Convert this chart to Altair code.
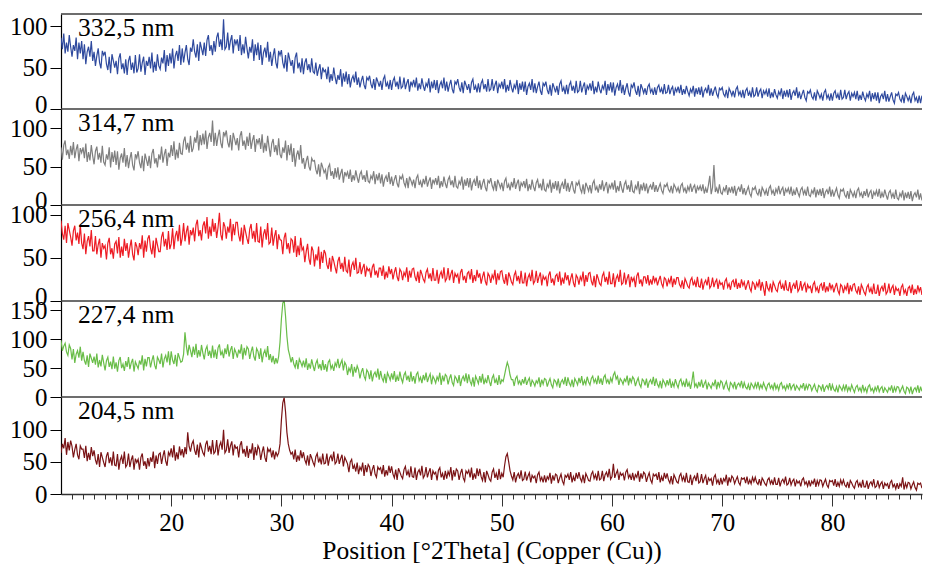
import altair as alt
import numpy as np
import pandas as pd

# x grid: 10 to 89 degrees 2Theta, step 0.125
STEP = 0.125
X_START = 10.0

labels = ["332,5 nm", "314,7 nm", "256,4 nm", "227,4 nm", "204,5 nm"]
colors = ["#2f4a9e", "#7f7f7f", "#ed1c24", "#69bd48", "#7a1315"]
ymax = [114.5, 125, 111, 166, 151]
yticks = [[0, 50, 100], [0, 50, 100], [0, 50, 100], [0, 50, 100, 150], [0, 50, 100]]
zero_label_shift = [-5, -5, -5, 0, 0]
heights = [95, 96, 96, 96, 97]
x_major = [20, 30, 40, 50, 60, 70, 80]
x_minor = [i for i in range(11, 89) if i % 10 != 0]

blue = [
    86, 72, 91, 67, 80, 69, 89, 75, 63, 77, 70, 86, 60, 80, 67, 82,
    60, 78, 54, 69, 75, 63, 82, 58, 69, 52, 64, 73, 56, 49, 70, 65,
    69, 54, 47, 63, 43, 66, 58, 50, 58, 42, 61, 67, 48, 55, 43, 60,
    41, 58, 64, 47, 56, 43, 65, 44, 49, 66, 45, 56, 63, 41, 58, 52,
    63, 49, 68, 44, 57, 46, 66, 52, 48, 62, 55, 71, 45, 65, 52, 67,
    55, 73, 49, 64, 70, 58, 77, 53, 73, 56, 68, 77, 60, 53, 74, 69,
    84, 69, 62, 78, 58, 81, 73, 65, 80, 64, 83, 89, 70, 77, 65, 82,
    69, 86, 92, 75, 84, 71, 108, 72, 75, 92, 71, 82, 89, 67, 84, 78,
    84, 70, 89, 65, 78, 67, 87, 73, 61, 75, 68, 84, 58, 78, 65, 80,
    59, 77, 53, 68, 74, 62, 81, 57, 69, 52, 64, 73, 56, 49, 70, 65,
    71, 56, 49, 65, 45, 68, 60, 52, 59, 43, 62, 68, 49, 56, 44, 61,
    42, 56, 61, 47, 54, 44, 61, 45, 43, 56, 40, 48, 54, 36, 50, 45,
    47, 36, 51, 32, 42, 34, 50, 38, 30, 41, 35, 48, 27, 43, 33, 45,
    30, 42, 26, 36, 40, 32, 45, 29, 38, 26, 34, 40, 29, 24, 38, 35,
    40, 30, 25, 36, 23, 38, 33, 27, 34, 23, 36, 40, 27, 32, 24, 35,
    23, 34, 38, 27, 33, 24, 39, 25, 27, 38, 24, 31, 36, 21, 33, 28,
    35, 26, 38, 22, 31, 24, 37, 28, 22, 31, 27, 37, 20, 33, 25, 35,
    23, 35, 19, 29, 33, 25, 38, 22, 33, 21, 29, 35, 24, 19, 33, 30,
    36, 26, 21, 32, 19, 34, 29, 23, 30, 19, 32, 36, 23, 28, 20, 31,
    20, 31, 35, 24, 30, 21, 36, 22, 24, 36, 22, 29, 34, 19, 30, 26,
    33, 24, 36, 20, 29, 22, 35, 26, 20, 29, 25, 35, 18, 31, 23, 33,
    21, 33, 17, 27, 31, 23, 36, 20, 31, 19, 27, 33, 22, 17, 31, 28,
    33, 23, 18, 29, 16, 31, 26, 20, 28, 17, 30, 34, 21, 26, 18, 29,
    18, 29, 33, 22, 28, 19, 34, 20, 22, 34, 20, 27, 32, 17, 28, 24,
    31, 22, 34, 18, 27, 20, 33, 24, 19, 28, 24, 34, 17, 30, 22, 32,
    20, 32, 16, 26, 30, 22, 35, 19, 29, 17, 25, 31, 20, 15, 29, 26,
    32, 22, 17, 28, 15, 30, 25, 19, 25, 17, 27, 30, 20, 24, 17, 26,
    17, 26, 29, 20, 25, 18, 30, 19, 20, 29, 18, 24, 27, 16, 25, 21,
    27, 19, 29, 17, 24, 18, 28, 21, 16, 24, 20, 28, 15, 25, 18, 26,
    17, 27, 14, 22, 25, 19, 29, 16, 25, 16, 22, 27, 18, 14, 25, 23,
    26, 18, 15, 23, 13, 25, 21, 16, 22, 14, 24, 27, 17, 21, 14, 23,
    13, 22, 25, 16, 21, 14, 26, 15, 17, 26, 15, 21, 24, 13, 22, 18,
    23, 15, 25, 13, 20, 14, 24, 17, 13, 21, 17, 25, 12, 22, 15, 23,
    14, 24, 11, 19, 22, 16, 26, 13, 21, 12, 18, 23, 14, 10, 21, 19,
    23, 15, 12, 20, 10, 22, 18, 13, 18, 10, 20, 23, 13, 17, 10, 19,
    10, 19, 22, 13, 18, 11, 23, 12, 14, 23, 12, 18, 21, 10, 19, 15,
    20, 12, 22, 10, 17, 11, 21, 14, 10, 18, 14, 22, 9, 19, 12, 20,
    10, 20, 7, 15, 18, 12, 22, 9, 18, 9, 15, 20, 11, 7, 18, 16,
    20, 12, 9, 17, 7, 19, 15, 10, 15, 7, 17, 20, 10, 14, 7, 16,
    7, 16, 19, 10, 15, 8, 20, 9, 12,
]

gray = [
    75, 59, 78, 84, 65, 72, 60, 77, 65, 82, 61, 72, 79, 57, 74, 68,
    75, 61, 80, 56, 69, 58, 78, 64, 53, 70, 76, 59, 68, 55, 77, 56,
    52, 66, 59, 75, 49, 69, 56, 71, 52, 70, 46, 61, 67, 55, 74, 50,
    65, 48, 60, 69, 52, 45, 66, 61, 70, 55, 48, 64, 44, 67, 59, 51,
    64, 48, 67, 73, 54, 61, 49, 66, 59, 76, 55, 66, 73, 51, 68, 62,
    78, 64, 83, 59, 72, 61, 81, 67, 66, 83, 89, 72, 81, 68, 90, 69,
    74, 88, 81, 97, 71, 91, 78, 93, 79, 97, 73, 88, 94, 82, 110, 77,
    94, 77, 89, 98, 81, 74, 95, 90, 97, 82, 75, 91, 71, 94, 86, 78,
    87, 71, 90, 96, 77, 84, 72, 89, 77, 94, 73, 84, 91, 69, 86, 80,
    87, 73, 92, 68, 81, 70, 90, 76, 63, 80, 86, 69, 78, 65, 87, 66,
    61, 75, 68, 84, 58, 78, 65, 80, 56, 74, 50, 65, 71, 59, 78, 54,
    61, 47, 57, 64, 50, 45, 61, 57, 58, 46, 40, 53, 37, 55, 49, 42,
    46, 33, 49, 53, 38, 44, 34, 48, 36, 49, 33, 41, 47, 29, 43, 38,
    43, 34, 46, 30, 39, 32, 45, 36, 29, 40, 44, 33, 39, 30, 45, 31,
    29, 38, 34, 44, 27, 40, 32, 42, 28, 40, 24, 34, 38, 30, 43, 27,
    37, 25, 33, 39, 28, 23, 37, 34, 39, 29, 24, 35, 22, 37, 32, 26,
    33, 22, 35, 39, 26, 31, 23, 34, 27, 38, 24, 31, 36, 21, 33, 28,
    35, 26, 38, 22, 31, 24, 37, 28, 22, 33, 37, 26, 32, 23, 38, 24,
    22, 31, 27, 37, 20, 33, 25, 35, 23, 35, 19, 29, 33, 25, 38, 22,
    32, 20, 28, 34, 23, 18, 32, 29, 35, 25, 20, 31, 18, 33, 28, 22,
    29, 18, 31, 35, 22, 27, 19, 30, 23, 35, 21, 28, 33, 18, 29, 25,
    31, 22, 34, 18, 27, 20, 33, 24, 18, 29, 33, 22, 28, 19, 34, 20,
    18, 27, 23, 33, 16, 29, 21, 31, 19, 31, 15, 25, 29, 21, 34, 18,
    29, 17, 25, 31, 20, 15, 29, 26, 31, 21, 16, 27, 14, 29, 24, 18,
    26, 15, 28, 32, 19, 24, 16, 27, 20, 32, 18, 25, 30, 15, 26, 22,
    29, 20, 32, 16, 25, 18, 31, 22, 16, 27, 31, 20, 26, 17, 32, 18,
    16, 25, 21, 31, 14, 27, 19, 29, 18, 28, 15, 23, 26, 20, 30, 17,
    26, 17, 23, 28, 19, 15, 26, 24, 28, 20, 17, 25, 15, 27, 23, 18,
    23, 15, 25, 28, 18, 22, 15, 24, 19, 28, 17, 23, 26, 15, 24, 20,
    25, 18, 27, 15, 22, 16, 26, 38, 14, 23, 52, 17, 22, 15, 27, 16,
    14, 22, 18, 26, 13, 23, 16, 24, 15, 25, 12, 20, 23, 17, 27, 14,
    22, 13, 19, 24, 15, 11, 22, 20, 24, 16, 13, 21, 11, 23, 19, 14,
    20, 12, 22, 25, 15, 19, 12, 21, 16, 25, 14, 20, 23, 12, 21, 17,
    22, 14, 24, 12, 19, 13, 23, 16, 11, 20, 23, 14, 19, 12, 24, 13,
    11, 19, 15, 23, 10, 20, 13, 21, 12, 22, 9, 17, 20, 14, 24, 11,
    20, 11, 17, 22, 13, 9, 20, 18, 21, 13, 10, 18, 8, 20, 16, 11,
    17, 9, 19, 22, 12, 16, 9, 18, 12, 21, 10, 16, 19, 8, 17, 13,
    19, 11, 21, 9, 16, 10, 20, 13, 7, 16, 19, 10, 15, 8, 20, 9,
    7, 15, 11, 19, 6, 16, 9, 17, 8, 18, 5, 13, 16, 10, 20, 7,
    15, 6, 12, 17, 8, 4, 15, 13, 11,
]

red = [
    93, 78, 71, 87, 67, 90, 82, 74, 64, 81, 87, 70, 79, 66, 88, 67,
    60, 78, 54, 69, 75, 63, 82, 58, 58, 75, 54, 65, 72, 50, 67, 61,
    64, 48, 67, 73, 54, 61, 49, 66, 69, 55, 74, 50, 63, 52, 72, 58,
    67, 50, 62, 71, 54, 47, 68, 63, 53, 67, 60, 76, 50, 70, 57, 72,
    76, 61, 54, 70, 50, 73, 65, 57, 57, 74, 80, 63, 72, 59, 81, 60,
    66, 84, 60, 75, 81, 69, 88, 64, 73, 90, 69, 80, 87, 65, 82, 76,
    85, 69, 88, 94, 75, 82, 70, 87, 92, 78, 97, 72, 86, 75, 95, 80,
    90, 73, 85, 102, 77, 70, 91, 86, 72, 86, 79, 95, 69, 89, 76, 91,
    91, 76, 69, 85, 65, 88, 80, 72, 66, 83, 89, 72, 81, 68, 90, 69,
    68, 86, 62, 77, 83, 71, 90, 66, 68, 85, 64, 75, 82, 60, 77, 71,
    70, 54, 73, 79, 60, 67, 55, 72, 70, 56, 75, 51, 64, 53, 73, 59,
    62, 45, 57, 66, 49, 42, 63, 58, 40, 54, 47, 63, 37, 57, 44, 59,
    55, 42, 37, 50, 34, 52, 46, 39, 32, 46, 51, 37, 44, 34, 51, 35,
    33, 48, 28, 41, 45, 36, 50, 32, 33, 45, 31, 38, 43, 28, 39, 35,
    37, 27, 39, 43, 30, 35, 27, 38, 38, 29, 41, 25, 34, 27, 40, 31,
    37, 25, 33, 39, 28, 23, 37, 34, 24, 33, 29, 39, 22, 35, 27, 37,
    38, 28, 23, 34, 21, 36, 31, 25, 22, 33, 37, 26, 32, 23, 38, 24,
    24, 36, 20, 30, 34, 26, 39, 23, 26, 38, 24, 31, 36, 21, 32, 28,
    31, 20, 33, 37, 24, 29, 21, 32, 34, 25, 37, 21, 30, 23, 36, 27,
    32, 20, 28, 34, 23, 18, 32, 29, 21, 30, 26, 36, 19, 32, 24, 34,
    35, 25, 20, 31, 18, 33, 28, 22, 19, 30, 34, 23, 29, 20, 35, 21,
    21, 33, 17, 27, 31, 23, 36, 20, 23, 35, 21, 28, 33, 18, 29, 25,
    28, 17, 30, 34, 21, 26, 18, 29, 31, 22, 34, 18, 27, 20, 33, 24,
    30, 18, 26, 32, 21, 16, 30, 27, 19, 28, 24, 34, 17, 30, 22, 32,
    33, 23, 18, 29, 16, 31, 26, 20, 18, 29, 33, 22, 28, 19, 34, 20,
    20, 32, 16, 26, 30, 22, 36, 19, 21, 33, 19, 26, 31, 16, 28, 23,
    27, 16, 29, 33, 20, 25, 17, 28, 28, 20, 30, 18, 25, 19, 29, 22,
    27, 18, 24, 29, 20, 16, 27, 25, 17, 25, 21, 29, 16, 26, 19, 27,
    27, 19, 16, 24, 14, 26, 22, 17, 15, 24, 27, 18, 23, 16, 28, 17,
    16, 26, 13, 21, 24, 18, 28, 15, 18, 27, 16, 22, 25, 14, 23, 19,
    21, 13, 23, 26, 16, 20, 13, 22, 24, 16, 26, 14, 21, 15, 25, 18,
    22, 13, 19, 24, 15, 11, 22, 20, 13, 21, 17, 25, 12, 22, 15, 6,
    23, 15, 12, 20, 10, 22, 18, 13, 11, 20, 23, 14, 19, 12, 24, 13,
    12, 22, 9, 17, 20, 14, 24, 11, 14, 23, 12, 18, 21, 10, 19, 15,
    17, 9, 19, 22, 12, 16, 9, 18, 20, 12, 22, 10, 17, 11, 21, 14,
    19, 10, 16, 21, 12, 8, 19, 17, 9, 17, 13, 21, 8, 18, 11, 19,
    20, 12, 9, 17, 7, 19, 15, 10, 7, 16, 19, 10, 15, 8, 20, 9,
    9, 19, 6, 14, 17, 11, 21, 8, 11, 20, 9, 15, 18, 7, 16, 12,
    14, 6, 16, 19, 9, 13, 6, 15, 17, 9, 19, 7, 14, 8, 18, 11,
    16, 7, 13, 24, 9, 5, 16, 14, 12,
]

green = [
    98, 80, 88, 93, 78, 72, 90, 84, 65, 83, 59, 74, 80, 68, 87, 63,
    78, 63, 56, 72, 52, 75, 67, 59, 70, 56, 75, 51, 64, 53, 73, 59,
    46, 63, 69, 52, 61, 48, 70, 49, 60, 44, 63, 69, 50, 57, 45, 62,
    52, 69, 48, 59, 66, 44, 61, 55, 49, 63, 56, 72, 46, 66, 53, 68,
    68, 51, 63, 72, 55, 48, 69, 64, 57, 75, 51, 66, 72, 60, 79, 55,
    79, 64, 57, 73, 53, 76, 68, 60, 62, 74, 112, 88, 72, 90, 80, 69,
    87, 73, 92, 68, 81, 70, 90, 76, 65, 82, 88, 71, 80, 67, 89, 68,
    82, 66, 85, 91, 72, 79, 67, 84, 74, 91, 70, 81, 88, 66, 83, 77,
    68, 82, 75, 91, 65, 85, 72, 87, 83, 66, 78, 87, 70, 63, 84, 79,
    66, 84, 60, 75, 81, 69, 88, 64, 74, 60, 71, 57, 67, 58, 70, 95,
    135, 162, 168, 140, 105, 82, 72, 60, 69, 57, 51, 64, 48, 66, 60, 53,
    63, 51, 67, 47, 58, 49, 65, 54, 45, 58, 64, 49, 57, 46, 64, 47,
    57, 44, 60, 64, 49, 55, 45, 59, 53, 66, 50, 58, 64, 46, 60, 55,
    38, 50, 44, 57, 35, 52, 42, 54, 47, 32, 43, 50, 36, 30, 47, 43,
    31, 46, 27, 39, 43, 34, 49, 30, 45, 33, 27, 40, 24, 42, 36, 29,
    41, 30, 45, 26, 36, 28, 44, 32, 25, 38, 43, 29, 37, 26, 44, 27,
    36, 23, 39, 43, 28, 34, 24, 38, 29, 42, 26, 34, 40, 22, 36, 31,
    24, 35, 29, 42, 21, 37, 27, 39, 36, 22, 32, 39, 25, 20, 36, 32,
    24, 38, 19, 31, 36, 27, 41, 24, 39, 27, 21, 34, 18, 36, 30, 23,
    36, 25, 40, 22, 31, 24, 38, 27, 19, 33, 38, 24, 31, 21, 38, 22,
    30, 27, 38, 50, 60, 52, 38, 30, 30, 19, 32, 36, 23, 28, 20, 31,
    23, 35, 21, 28, 33, 18, 29, 25, 19, 28, 24, 34, 17, 30, 22, 32,
    30, 18, 26, 32, 21, 16, 30, 27, 20, 32, 16, 26, 30, 22, 35, 19,
    34, 24, 19, 30, 17, 32, 27, 21, 33, 24, 36, 20, 29, 22, 35, 26,
    21, 32, 36, 25, 31, 22, 37, 23, 32, 21, 34, 38, 25, 30, 22, 33,
    26, 38, 43, 31, 36, 21, 32, 28, 22, 31, 27, 37, 20, 33, 25, 35,
    31, 19, 27, 33, 22, 17, 31, 28, 20, 32, 16, 26, 30, 22, 35, 19,
    32, 22, 17, 28, 15, 30, 25, 19, 29, 20, 32, 16, 25, 18, 31, 22,
    16, 27, 31, 20, 26, 17, 32, 18, 25, 14, 27, 44, 18, 23, 15, 26,
    18, 30, 16, 23, 28, 13, 24, 20, 15, 24, 20, 30, 13, 26, 18, 28,
    25, 13, 21, 27, 16, 11, 25, 22, 16, 26, 13, 21, 24, 18, 28, 15,
    25, 17, 14, 22, 12, 24, 20, 15, 24, 16, 26, 14, 21, 15, 25, 18,
    12, 21, 24, 15, 20, 13, 25, 14, 20, 12, 22, 25, 15, 19, 12, 21,
    15, 24, 13, 19, 22, 11, 20, 16, 12, 20, 16, 24, 11, 21, 14, 22,
    20, 11, 17, 22, 13, 9, 20, 18, 12, 22, 9, 17, 20, 14, 24, 11,
    21, 13, 10, 18, 8, 20, 16, 11, 20, 12, 22, 10, 17, 11, 21, 14,
    8, 17, 20, 11, 16, 9, 21, 10, 16, 8, 18, 21, 11, 15, 8, 17,
    11, 20, 9, 15, 18, 7, 16, 12, 8, 16, 12, 20, 7, 17, 10, 18,
    17, 8, 14, 19, 10, 6, 17, 15, 8, 18, 5, 13, 16, 10, 20, 7,
    18, 10, 7, 15, 5, 17, 13, 8, 11,
]

darkred = [
    64, 78, 71, 87, 61, 81, 68, 83, 74, 57, 69, 78, 61, 54, 75, 70,
    70, 56, 75, 51, 64, 53, 73, 59, 68, 53, 46, 62, 42, 65, 57, 49,
    42, 59, 65, 48, 57, 44, 66, 45, 44, 62, 38, 53, 59, 47, 66, 42,
    46, 63, 42, 53, 60, 38, 55, 49, 54, 38, 57, 63, 44, 51, 39, 56,
    43, 57, 50, 66, 40, 60, 47, 62, 64, 47, 59, 68, 51, 44, 65, 60,
    71, 57, 76, 52, 65, 54, 74, 60, 70, 57, 73, 62, 96, 74, 66, 78,
    83, 68, 61, 77, 57, 80, 72, 64, 60, 77, 83, 66, 75, 62, 84, 63,
    66, 84, 60, 75, 81, 69, 100, 64, 68, 85, 64, 75, 82, 60, 77, 71,
    73, 57, 76, 82, 63, 70, 58, 75, 56, 70, 63, 79, 53, 73, 60, 75,
    70, 53, 65, 74, 57, 50, 71, 66, 70, 57, 68, 54, 66, 59, 64, 78,
    115, 142, 150, 128, 96, 78, 68, 62, 65, 54, 69, 50, 60, 52, 68, 56,
    65, 53, 47, 60, 44, 62, 56, 49, 44, 58, 63, 49, 56, 46, 63, 47,
    48, 63, 44, 56, 60, 51, 66, 47, 50, 63, 47, 55, 61, 43, 57, 52,
    47, 34, 50, 54, 39, 45, 35, 49, 31, 42, 37, 49, 28, 45, 34, 46,
    42, 28, 38, 45, 31, 26, 42, 38, 41, 31, 45, 27, 37, 29, 44, 33,
    43, 31, 25, 38, 22, 40, 34, 28, 24, 38, 43, 29, 36, 26, 43, 27,
    26, 41, 22, 34, 38, 29, 44, 25, 29, 42, 26, 34, 40, 22, 36, 31,
    34, 21, 37, 41, 26, 32, 22, 36, 24, 35, 29, 42, 21, 37, 27, 39,
    36, 22, 32, 39, 25, 20, 36, 32, 37, 26, 41, 22, 32, 24, 40, 28,
    39, 27, 21, 34, 18, 36, 30, 23, 20, 34, 39, 25, 32, 22, 39, 23,
    32, 26, 44, 58, 63, 50, 36, 28, 22, 34, 18, 28, 32, 24, 37, 21,
    23, 35, 21, 28, 33, 18, 29, 25, 28, 17, 30, 34, 21, 26, 18, 29,
    18, 27, 23, 33, 16, 29, 21, 31, 29, 17, 25, 31, 20, 15, 29, 26,
    31, 22, 34, 18, 27, 20, 33, 24, 34, 24, 19, 30, 17, 32, 27, 21,
    20, 31, 35, 24, 30, 21, 36, 22, 24, 36, 20, 30, 34, 26, 39, 23,
    27, 47, 25, 32, 37, 22, 33, 29, 32, 21, 34, 38, 25, 30, 22, 33,
    21, 30, 26, 36, 19, 32, 24, 34, 31, 19, 27, 33, 22, 17, 31, 28,
    31, 22, 34, 18, 27, 20, 33, 24, 32, 22, 17, 28, 15, 30, 25, 19,
    17, 28, 32, 21, 27, 18, 33, 19, 18, 30, 14, 24, 28, 20, 33, 17,
    19, 31, 17, 24, 29, 14, 25, 21, 24, 13, 26, 30, 17, 22, 14, 25,
    15, 24, 20, 30, 13, 26, 18, 28, 25, 16, 22, 27, 18, 14, 25, 23,
    25, 17, 27, 15, 22, 16, 26, 19, 26, 18, 15, 23, 13, 25, 21, 16,
    13, 22, 25, 16, 21, 14, 26, 15, 15, 25, 12, 20, 23, 17, 27, 14,
    16, 25, 14, 20, 23, 12, 21, 17, 20, 12, 22, 25, 15, 19, 12, 21,
    12, 20, 16, 24, 11, 21, 14, 22, 21, 12, 18, 23, 14, 10, 21, 19,
    21, 13, 23, 11, 18, 12, 22, 15, 22, 14, 11, 19, 9, 21, 17, 12,
    9, 18, 21, 12, 17, 10, 22, 11, 11, 21, 8, 16, 19, 13, 23, 10,
    12, 21, 10, 16, 19, 8, 17, 13, 16, 8, 18, 21, 11, 15, 8, 17,
    8, 16, 12, 26, 7, 17, 10, 18, 17, 8, 14, 19, 10, 6, 17, 15,
    17, 9, 19, 7, 14, 8, 18, 11, 11,
]

series = [blue, gray, red, green, darkred]

PX_PER_DEG = 11.02
W = 861
FONT = "Liberation Serif"
XDOM = [10, 10 + W / PX_PER_DEG]


def make_panel(i):
    vals = series[i]
    df = pd.DataFrame({"x": X_START + STEP * np.arange(len(vals)), "y": vals})
    last = i == len(series) - 1
    xscale = alt.Scale(domain=XDOM, nice=False, zero=False)
    yenc = alt.Y(
        "y:Q",
        scale=alt.Scale(domain=[0, ymax[i]], nice=False, zero=True),
        axis=alt.Axis(
            values=yticks[i], title=None, tickSize=11, labelPadding=3,
            minExtent=53, maxExtent=53, labelFlush=False, labelOverlap=False,
            labelBound=False, domainColor="black", domainWidth=1.2,
            tickColor="black", tickWidth=1, grid=False,
            labelOffset={"condition": {"test": "datum.value == 0",
                                       "value": zero_label_shift[i]}, "value": 0},
        ),
    )
    if last:
        xaxis = alt.Axis(
            values=x_major, format="d", tickSize=12, labelPadding=4,
            title="Position [°2Theta] (Copper (Cu))", titlePadding=3,
            labelFlush=False, domainColor="#333333", domainWidth=1.5,
            tickColor="#333333", grid=False, orient="bottom",
        )
    else:
        xaxis = None
    base = alt.Chart(df).transform_filter(alt.datum.x <= XDOM[1])
    line = base.mark_line(color=colors[i], strokeWidth=1.2, clip=True).encode(
        x=alt.X("x:Q", scale=xscale, axis=xaxis), y=yenc
    )
    top = alt.Chart(pd.DataFrame({"a": [0]})).mark_rule(
        color="#3c3c3c", strokeWidth=1.5
    ).encode(x=alt.value(0), x2=alt.value(W), y=alt.value(0))
    txt = alt.Chart(pd.DataFrame({"t": [labels[i]]})).mark_text(
        align="left", baseline="alphabetic", font=FONT, fontSize=25.5, color="black"
    ).encode(text="t:N", x=alt.value(17), y=alt.value(22))
    layers = [line]
    if last:
        minor = base.mark_line(strokeOpacity=0).encode(
            x=alt.X("x:Q", scale=xscale, axis=alt.Axis(
                values=x_minor, labels=False, tickSize=5, domain=False,
                title=None, grid=False, orient="bottom", tickColor="#333333")),
            y=yenc,
        )
        layers.append(minor)
    layers += [top, txt]
    ch = alt.layer(*layers).properties(width=W, height=heights[i])
    if last:
        ch = ch.resolve_axis(x="independent")
    return ch


panels = [make_panel(i) for i in range(len(series))]

chart = (
    alt.vconcat(*panels, spacing=0, bounds="flush")
    .properties(padding={"left": 0, "top": 5, "right": 0, "bottom": 0})
    .configure_view(strokeWidth=0)
    .configure_axis(
        labelFont=FONT, titleFont=FONT, labelFontSize=25, titleFontSize=25.5,
        labelColor="black", titleColor="black", titleFontWeight="normal",
        labelFontWeight="normal",
    )
)

chart.save("out.html", embed_options={"renderer": "svg", "actions": False})
